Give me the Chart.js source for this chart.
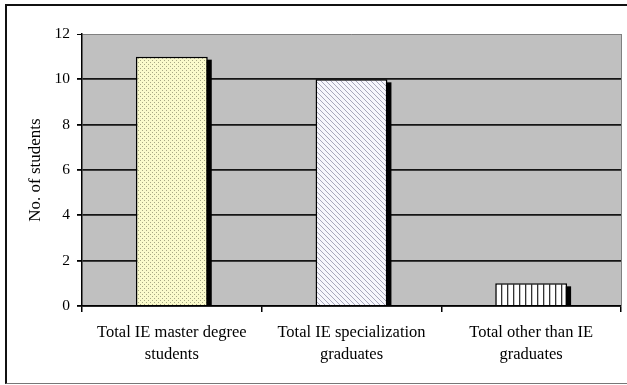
<!DOCTYPE html>
<html><head><meta charset="utf-8">
<script src="https://cdn.jsdelivr.net/npm/chart.js@4/dist/chart.umd.min.js"></script>
<style>
html,body{margin:0;padding:0;background:#fff;overflow:hidden}
#wrap{position:relative;width:627px;height:385px}
#frame{position:absolute;left:5px;top:4px;width:700px;height:377px;border-top:2px solid #111;border-left:2px solid #111;border-bottom:1px solid #777;pointer-events:none}
</style></head><body>
<div id="wrap"><canvas id="c" width="627" height="385"></canvas><div id="frame"></div></div>
<script>
// Categories (multi-line labels) and counts
const categories = [
  ["Total IE master degree", "students"],
  ["Total IE specialization", "graduates"],
  ["Total other than IE", "graduates"]
];
const studentCounts = [11, 10, 1];
const yAxisTitle = "No. of students";
const yMin = 0, yMax = 12, yStep = 2;

const SERIF = "'Liberation Serif', 'Times New Roman', serif";

// Fill patterns for the three bars
function makeTile(w, h, draw) {
  const t = document.createElement('canvas');
  t.width = w; t.height = h;
  const g = t.getContext('2d');
  draw(g, w, h);
  return document.getElementById('c').getContext('2d').createPattern(t, 'repeat');
}
const dotted = makeTile(4, 4, (g) => {
  g.fillStyle = '#fbfbcc'; g.fillRect(0, 0, 4, 4);
  g.fillStyle = '#a9a985';
  g.fillRect(0, 0, 1, 1); g.fillRect(2, 2, 1, 1);
});
const hatched = makeTile(5, 5, (g) => {
  g.fillStyle = '#f7f7fc'; g.fillRect(0, 0, 5, 5);
  g.fillStyle = '#a8a8bc';
  for (let i = 0; i < 5; i++) g.fillRect(i, i, 1, 1);
});
const striped = makeTile(6, 6, (g) => {
  g.fillStyle = '#ffffff'; g.fillRect(0, 0, 6, 6);
  g.fillStyle = '#333333'; g.fillRect(3, 0, 1.3, 6);
});

const plotArea = {
  id: 'plotArea',
  beforeDraw(chart) {
    const { ctx, chartArea: a } = chart;
    ctx.save();
    ctx.fillStyle = '#c0c0c0';
    ctx.fillRect(a.left, a.top, a.right - a.left, a.bottom - a.top);
    ctx.restore();
  },
  afterDraw(chart) {
    const { ctx, chartArea: a } = chart;
    ctx.save();
    ctx.strokeStyle = '#808080';
    ctx.lineWidth = 1;
    ctx.beginPath();
    ctx.moveTo(a.right + 0.5, a.top);
    ctx.lineTo(a.right + 0.5, a.bottom);
    ctx.stroke();
    ctx.restore();
  }
};

// Hard drop shadow behind each bar, taken from the bar elements' geometry
const barShadow = {
  id: 'barShadow',
  beforeDatasetsDraw(chart) {
    const { ctx, chartArea: a } = chart;
    ctx.save();
    ctx.beginPath();
    ctx.rect(a.left, a.top, a.right - a.left, a.bottom - a.top);
    ctx.clip();
    ctx.fillStyle = '#000';
    chart.getDatasetMeta(0).data.forEach((bar) => {
      const p = bar.getProps(['x', 'y', 'base', 'width'], true);
      ctx.fillRect(p.x - p.width / 2 + 4, p.y + 3, p.width, p.base - p.y);
    });
    ctx.restore();
  }
};

new Chart(document.getElementById('c'), {
  type: 'bar',
  data: {
    labels: categories,
    datasets: [{
      data: studentCounts,
      backgroundColor: [dotted, hatched, striped],
      borderColor: '#000',
      borderWidth: 1.5,
      categoryPercentage: 1,
      barPercentage: 0.4
    }]
  },
  options: {
    responsive: false,
    animation: false,
    devicePixelRatio: 1,
    layout: { padding: { left: 0, right: 6, top: 34, bottom: 0 } },
    plugins: { legend: { display: false }, tooltip: { enabled: false } },
    scales: {
      x: {
        offset: true,
        grid: { display: true, drawOnChartArea: false, color: '#000', tickLength: 6, lineWidth: 1.5 },
        border: { display: true, color: '#000', width: 1.5 },
        ticks: { color: '#000', font: { family: SERIF, size: 16.5, lineHeight: 1.33 }, maxRotation: 0, minRotation: 0, padding: 10 },
        afterFit(s) { s.height = 79; }
      },
      y: {
        min: yMin, max: yMax,
        grid: {
          color: (c) => c.tick && c.tick.value === yMax ? '#808080' : '#151515',
          lineWidth: (c) => c.tick && c.tick.value === yMax ? 1 : 1.8,
          tickColor: '#000',
          tickLength: 5
        },
        border: { display: true, color: '#000', width: 1.5 },
        ticks: { stepSize: yStep, color: '#000', font: { family: SERIF, size: 15.5 }, padding: 7 },
        title: { display: true, text: yAxisTitle, color: '#000', font: { family: SERIF, size: 17 }, padding: { top: 25, bottom: 0 } },
        afterFit(s) { s.width = 82; }
      }
    }
  },
  plugins: [plotArea, barShadow]
});
</script>
</body></html>
